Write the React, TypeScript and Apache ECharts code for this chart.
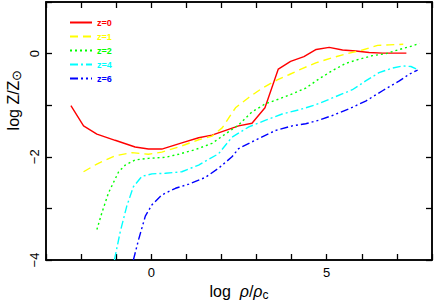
import React, { useEffect, useRef } from "react";
import * as echarts from "echarts";

const seriesNames = ["z=0", "z=1", "z=2", "z=4", "z=6"];
const colors = ["#ff0000", "#ffff00", "#00ff00", "#00ffff", "#0000ff"];

const z0: [number, number][] = [
  [-2.29, -1.01], [-1.93, -1.4], [-1.55, -1.56], [-1.03, -1.68], [-0.46, -1.81],
  [-0.08, -1.85], [0.3, -1.85], [0.87, -1.73], [1.35, -1.63], [1.73, -1.58],
  [2.49, -1.4], [2.87, -1.35], [3.24, -1.05], [3.62, -0.3], [3.97, -0.15],
  [4.35, -0.06], [4.7, 0.08], [5.07, 0.12], [5.45, 0.07], [5.83, 0.05],
  [6.21, 0.02], [6.59, 0.01], [7.27, 0.01],
];
const z1: [number, number][] = [
  [-1.93, -2.29], [-1.55, -2.14], [-1.03, -1.98], [-0.55, -1.92], [-0.08, -1.95],
  [0.3, -1.91], [0.78, -1.81], [1.35, -1.67], [1.73, -1.6], [2.02, -1.44],
  [2.4, -1.05], [2.78, -0.85], [3.16, -0.67], [3.59, -0.51], [3.92, -0.41],
  [4.3, -0.29], [4.69, -0.18], [5.16, -0.08], [5.64, 0.01], [6.02, 0.07],
  [6.45, 0.16], [6.78, 0.17], [7.18, 0.18],
];
const z2: [number, number][] = [
  [-1.55, -3.41], [-1.41, -3.09], [-1.22, -2.7], [-0.93, -2.29], [-0.74, -2.16],
  [-0.46, -2.06], [-0.08, -2.03], [0.4, -2.01], [0.78, -1.95], [1.26, -1.86],
  [1.73, -1.74], [2.11, -1.56], [2.49, -1.38], [2.87, -1.13], [3.26, -0.97],
  [3.64, -0.88], [4.02, -0.78], [4.4, -0.67], [4.78, -0.49], [5.16, -0.33],
  [5.54, -0.19], [5.92, -0.11], [6.3, -0.04], [6.69, 0.0], [7.07, 0.08],
  [7.45, 0.15], [7.64, 0.2],
];
const z4: [number, number][] = [
  [-1.05, -4.0], [-0.89, -3.47], [-0.7, -2.96], [-0.51, -2.58], [-0.27, -2.38],
  [0.02, -2.33], [0.4, -2.32], [0.87, -2.29], [1.35, -2.16], [1.92, -1.94],
  [2.3, -1.62], [2.78, -1.42], [3.26, -1.29], [3.73, -1.17], [4.21, -1.09],
  [4.69, -0.99], [5.16, -0.86], [5.73, -0.7], [6.11, -0.53], [6.49, -0.37],
  [6.87, -0.28], [7.16, -0.24], [7.4, -0.25], [7.56, -0.3],
];
const z6: [number, number][] = [
  [-0.51, -4.0], [-0.36, -3.6], [-0.17, -3.15], [0.02, -2.93], [0.3, -2.74],
  [0.69, -2.61], [1.07, -2.53], [1.54, -2.4], [1.92, -2.22], [2.3, -2.0],
  [2.49, -1.84], [2.87, -1.71], [3.54, -1.49], [4.02, -1.4], [4.4, -1.36],
  [4.78, -1.29], [5.16, -1.2], [5.64, -1.07], [6.11, -0.92], [6.59, -0.72],
  [7.07, -0.53], [7.35, -0.4], [7.59, -0.32],
];
const seriesData = [z0, z1, z2, z4, z6];
const dashTypes: any[] = ["solid", [8, 5], [2, 3], [8, 3, 2, 3], [8, 3, 2, 3, 2, 3]];

const xTickLabels = [0, 5];
const yTickLabels = [0, -2, -4];

const FONT = "Liberation Sans, Arial, Helvetica, sans-serif";

export default function App() {
  const ref = useRef<HTMLDivElement>(null);
  useEffect(() => {
    document.body.style.margin = "0";
    document.documentElement.style.overflow = "hidden";
    if (!ref.current) return;
    const chart = echarts.init(ref.current, undefined, { renderer: "svg" });
    const mkLine = () => ({ show: true, onZero: false, lineStyle: { color: "#000", width: 1.5 } });
    const mkTick = () => ({ show: true, inside: true, length: 6, lineStyle: { color: "#000", width: 1.3 } });
    const fmt = (v: number) => (v < 0 ? "\u2212" + Math.abs(v) : String(v));
    const series: any[] = seriesData.map((d, i) => ({
      name: seriesNames[i],
      type: "line",
      data: d,
      xAxisIndex: 0,
      yAxisIndex: 0,
      symbol: "none",
      showSymbol: false,
      smooth: false,
      clip: true,
      color: colors[i],
      lineStyle: { color: colors[i], width: 1.4, type: dashTypes[i] },
    }));
    series.push({
      name: "frame",
      type: "line",
      xAxisIndex: 1,
      yAxisIndex: 1,
      data: z0,
      symbol: "none",
      showSymbol: false,
      silent: true,
      lineStyle: { opacity: 0 },
      itemStyle: { opacity: 0 },
    });
    chart.setOption({
      animation: false,
      backgroundColor: "#fff",
      grid: {
        left: 46,
        right: 3,
        top: 2,
        bottom: 40,
        outerBoundsMode: "none",
        show: true,
        borderColor: "#000",
        borderWidth: 1.5,
        backgroundColor: "rgba(0,0,0,0)",
      },
      legend: {
        orient: "vertical",
        left: 64,
        top: 13,
        itemWidth: 22,
        itemHeight: 8,
        itemGap: 5,
        itemStyle: { opacity: 0 },
        data: seriesNames.map((n, i) => ({
          name: n,
          textStyle: { color: colors[i] },
        })),
        textStyle: { fontSize: 9, fontWeight: "bold", fontFamily: FONT },
      },
      xAxis: [
        {
          type: "value",
          min: -3,
          max: 8,
          interval: 1,
          position: "bottom",
          axisLine: mkLine(),
          axisTick: mkTick(),
          splitLine: { show: false },
          axisLabel: {
            color: "#000",
            fontSize: 13,
            fontFamily: FONT,
            margin: 6,
            customValues: xTickLabels,
            formatter: (v: number) => fmt(v),
          },
          name: "log  {it|\u03c1}/{it|\u03c1}{sub|c}",
          nameLocation: "middle",
          nameGap: 14,
          nameTextStyle: {
            color: "#000",
            fontSize: 16,
            fontFamily: FONT,
            verticalAlign: "top",
            rich: {
              it: { fontSize: 16, fontFamily: FONT, fontStyle: "italic", color: "#000" },
              sub: { fontSize: 12, fontFamily: FONT, color: "#000", padding: [6, 0, 0, 0] },
            },
          },
        },
        {
          type: "value",
          min: -3,
          max: 8,
          interval: 1,
          position: "top",
          axisLine: mkLine(),
          axisTick: mkTick(),
          splitLine: { show: false },
          axisLabel: { show: true, formatter: () => "" },
        },
      ],
      yAxis: [
        {
          type: "value",
          min: -4,
          max: 1,
          interval: 1,
          position: "left",
          axisLine: mkLine(),
          axisTick: mkTick(),
          splitLine: { show: false },
          axisLabel: {
            color: "#000",
            fontSize: 13,
            fontFamily: FONT,
            rotate: 90,
            margin: 5,
            customValues: yTickLabels,
            formatter: (v: number) => fmt(v),
          },
        },
        {
          type: "value",
          min: -4,
          max: 1,
          interval: 1,
          position: "right",
          axisLine: mkLine(),
          axisTick: mkTick(),
          splitLine: { show: false },
          axisLabel: { show: true, formatter: () => "" },
        },
      ],
      graphic: [
        {
          type: "text",
          x: 13,
          y: 100,
          rotation: Math.PI / 2,
          style: {
            text: "log Z/Z{sub|\u2299}",
            fill: "#000",
            fontSize: 16,
            fontFamily: FONT,
            align: "center",
            verticalAlign: "middle",
            rich: { sub: { fontSize: 13, fontFamily: FONT, fill: "#000", padding: [6, 0, 0, 0] } },
          },
        },
      ],
      series,
    });
    return () => chart.dispose();
  }, []);
  return <div ref={ref} style={{ width: 435, height: 300 }} />;
}
